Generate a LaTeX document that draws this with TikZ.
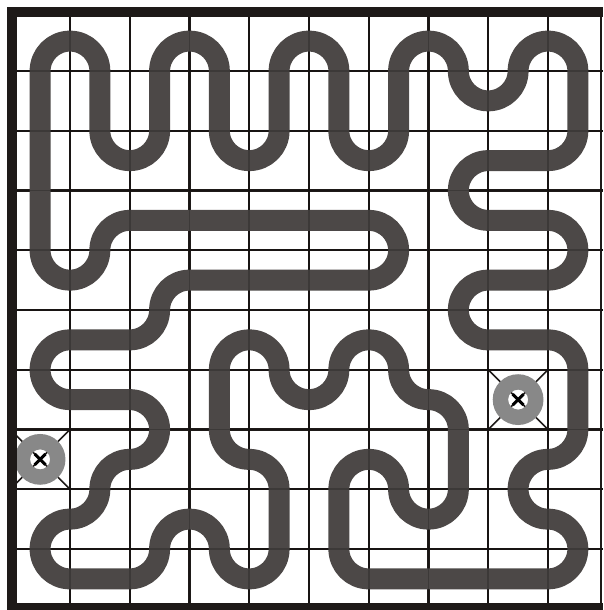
\documentclass[tikz,border=0pt]{standalone}
\definecolor{tubec}{RGB}{76,72,71}
\definecolor{gridc}{RGB}{30,26,24}
\definecolor{ringc}{RGB}{136,136,136}
\tikzset{
  gridline/.style={draw=gridc, line width=0.037cm},
  gridfaint/.style={draw=black, line width=0.03cm, opacity=0.2},
  diagline/.style={draw=gridc, line width=0.025cm},
  tubestyle/.style={draw=tubec, line width=0.351cm, rounded corners=0.5cm, line join=round},
  ringstyle/.style={fill=ringc, even odd rule},
  crossline/.style={draw=black, line width=0.05cm},
  borderfill/.style={fill=gridc}
}
\begin{document}
\begin{tikzpicture}[x=1cm,y=1cm]
\useasboundingbox (-0.671,0.688) rectangle (9.421,-9.521);
% grid
\foreach \k in {0.5,1.5,2.5,3.5,4.5,5.5,6.5,7.5,8.5} {
  \draw[gridline] (\k,0.49) -- (\k,-9.46);
  \draw[gridline] (-0.47,-\k) -- (9.421,-\k);
}
\draw[gridline] (9.388,0.49) -- (9.388,-9.46);
% diagonals of the two marked cells
\draw[diagline] (-0.5,-6.5) -- (0.5,-7.5);
\draw[diagline] (-0.5,-7.5) -- (0.5,-6.5);
\draw[diagline] (7.5,-5.5) -- (8.5,-6.5);
\draw[diagline] (7.5,-6.5) -- (8.5,-5.5);
% tube
\draw[tubestyle] (0,-2) -- (0,-4) -- (1,-4) -- (1,-3) -- (6,-3) -- (6,-4) -- (2,-4) -- (2,-5)
  -- (0,-5) -- (0,-6) -- (2,-6) -- (2,-7) -- (1,-7) -- (1,-8) -- (0,-8) -- (0,-9)
  -- (2,-9) -- (2,-8) -- (3,-8) -- (3,-9) -- (4,-9) -- (4,-7) -- (3,-7) -- (3,-5)
  -- (4,-5) -- (4,-6) -- (5,-6) -- (5,-5) -- (6,-5) -- (6,-6) -- (7,-6) -- (7,-8)
  -- (6,-8) -- (6,-7) -- (5,-7) -- (5,-9) -- (9,-9) -- (9,-8) -- (8,-8) -- (8,-7)
  -- (9,-7) -- (9,-5) -- (7,-5) -- (7,-4) -- (9,-4) -- (9,-3) -- (7,-3) -- (7,-2)
  -- (9,-2) -- (9,0) -- (8,0) -- (8,-1) -- (7,-1) -- (7,0) -- (6,0) -- (6,-2)
  -- (5,-2) -- (5,0) -- (4,0) -- (4,-2) -- (3,-2) -- (3,0) -- (2,0) -- (2,-2)
  -- (1,-2) -- (1,0) -- (0,0) -- cycle;
% faint grid seen through the tube
\foreach \k in {0.5,1.5,2.5,3.5,4.5,5.5,6.5,7.5,8.5} {
  \draw[gridfaint] (\k,0.49) -- (\k,-9.46);
  \draw[gridfaint] (-0.47,-\k) -- (9.421,-\k);
}
% rings
\fill[ringstyle] (0,-7) circle (0.425) (0,-7) circle (0.167);
\fill[ringstyle] (8,-6) circle (0.425) (8,-6) circle (0.167);
\draw[crossline] (-0.09,-6.91) -- (0.09,-7.09);
\draw[crossline] (-0.09,-7.09) -- (0.09,-6.91);
\draw[crossline] (7.91,-5.91) -- (8.09,-6.09);
\draw[crossline] (7.91,-6.09) -- (8.09,-5.91);
% borders
\fill[borderfill] (-0.554,0.571) rectangle (9.421,0.403);
\fill[borderfill] (-0.554,0.571) rectangle (-0.387,-9.521);
\fill[borderfill] (-0.554,-9.404) rectangle (9.421,-9.521);
\end{tikzpicture}
\end{document}
